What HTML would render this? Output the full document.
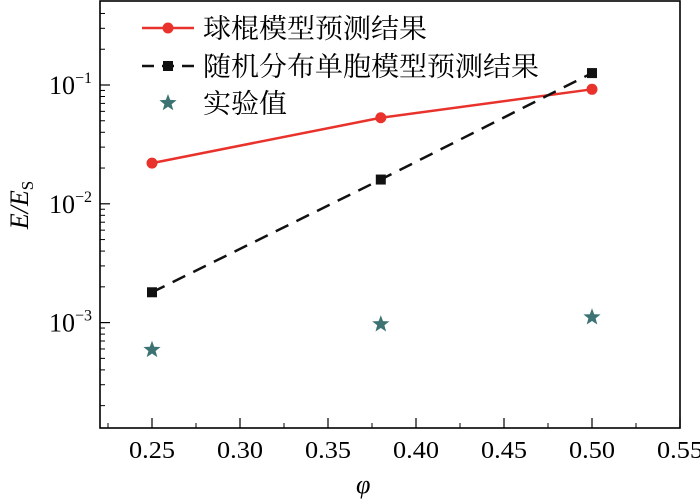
<!DOCTYPE html>
<html><head><meta charset="utf-8"><style>
html,body{margin:0;padding:0;background:#fff;}
svg{display:block;font-family:"Liberation Serif","Noto Serif CJK SC",serif;}
.cjk{font-family:"Liberation Serif","Noto Serif CJK SC",serif;}
</style></head><body>
<svg id="chart" width="700" height="499" viewBox="0 0 700 499">
</svg>
<script>
const xs=[0.25,0.38,0.5];
const ballStick=[0.022,0.053,0.092];
const randomCell=[0.0018,0.016,0.126];
const experiment=[0.00059,0.00097,0.00111];
const xTicks=[0.25,0.30,0.35,0.40,0.45,0.50,0.55];
const xTickLabels=["0.25","0.30","0.35","0.40","0.45","0.50","0.55"];
const yDecades=[-3,-2,-1];
const yTickLabels=["−3","−2","−1"];

const L=100,R=680,T=1,B=428;
const sx=v=>152+(v-0.25)/0.05*88;
const sy=v=>85-(Math.log10(v)+1)*118.8;
const NS="http://www.w3.org/2000/svg";
const svg=document.getElementById('chart');
function mk(tag,attrs,parent){const e=document.createElementNS(NS,tag);for(const k in attrs)e.setAttribute(k,attrs[k]);(parent||svg).appendChild(e);return e;}

const frame=mk('rect',{x:L,y:T,width:R-L,height:B-T,fill:'none',stroke:'#000','stroke-width':1.6});



xTicks.forEach((v,i)=>{
  const x=sx(v);
  const t=mk('line',{x1:x,x2:x,y1:B,y2:B-10,stroke:'#000','stroke-width':1.2});
  
  
  const lb=mk('text',{x:x,y:B+30,'text-anchor':'middle','font-size':24,textLength:46,lengthAdjust:'spacingAndGlyphs'});
  lb.textContent=xTickLabels[i];
  
  
  if(i<xTicks.length-1){
    const mx=sx(v+0.025);
    const m=mk('line',{x1:mx,x2:mx,y1:B,y2:B-5,stroke:'#000','stroke-width':1});
    
    
  }
});
{const mx=sx(0.225);const m=mk('line',{x1:mx,x2:mx,y1:B,y2:B-5,stroke:'#000','stroke-width':1});

}

yDecades.forEach((d,i)=>{
  const y=sy(Math.pow(10,d));
  const t=mk('line',{x1:L,x2:L+10,y1:y,y2:y,stroke:'#000','stroke-width':1.2});
  
  
  const lb=mk('text',{x:L-8,y:y+9,'text-anchor':'end','font-size':26});
  lb.innerHTML='10<tspan font-size="16" dy="-11">'+yTickLabels[i]+'</tspan>';
  
  
});
for(let d=-4;d<=0;d++){for(let k=2;k<=9;k++){
  const y=sy(k*Math.pow(10,d));
  if(y<T+1||y>B-1)continue;
  const m=mk('line',{x1:L,x2:L+5,y1:y,y2:y,stroke:'#000','stroke-width':1});
  
  
}}

const xt=mk('text',{x:sx(0.37),y:493,'text-anchor':'middle','font-size':26,'font-style':'italic'});
xt.textContent='φ';


const yt=mk('text',{transform:'translate(28,205) rotate(-90)','text-anchor':'middle','font-size':26,'font-style':'italic'});
yt.innerHTML='E/E<tspan font-size="17" font-style="normal" dy="5">S</tspan>';



function path(arr){return arr.map((v,i)=>(i?'L':'M')+sx(xs[i])+' '+sy(v)).join(' ');}
const rl=mk('path',{d:path(ballStick),fill:'none',stroke:'#e8322b','stroke-width':2.5});


ballStick.forEach((v,i)=>{const c=mk('circle',{cx:sx(xs[i]),cy:sy(v),r:5.5,fill:'#e8322b'});

});
const bl=mk('path',{d:path(randomCell),fill:'none',stroke:'#111','stroke-width':2.5,'stroke-dasharray':'14 9'});


randomCell.forEach((v,i)=>{const c=mk('rect',{x:sx(xs[i])-5,y:sy(v)-5,width:10,height:10,fill:'#111'});

});
function star(cx,cy,r){let p=[];for(let i=0;i<10;i++){const a=-Math.PI/2+i*Math.PI/5;const rr=i%2?r*0.42:r;p.push((cx+rr*Math.cos(a)).toFixed(1)+','+(cy+rr*Math.sin(a)).toFixed(1));}return p.join(' ');}
experiment.forEach((v,i)=>{const s=mk('polygon',{points:star(sx(xs[i]),sy(v),9),fill:'#3d7373'});

});

const lg=mk('g',{});


const e1=mk('line',{x1:142,x2:194,y1:28,y2:28,stroke:'#e8322b','stroke-width':2.5},lg);


const e1c=mk('circle',{cx:168,cy:28,r:5.5,fill:'#e8322b'},lg);


const e2=mk('line',{x1:142,x2:194,y1:66,y2:66,stroke:'#111','stroke-width':2.5,'stroke-dasharray':'12 8'},lg);


const e2r=mk('rect',{x:163,y:61,width:10,height:10,fill:'#111'},lg);


const e3=mk('polygon',{points:star(168,103,9),fill:'#3d7373'},lg);


[['球棍模型预测结果',28],['随机分布单胞模型预测结果',66],['实验值',103]].forEach(([t,y])=>{
  const tx=mk('text',{x:203,y:y+10,'font-size':27,'class':'cjk',textLength:t.length*28,lengthAdjust:'spacingAndGlyphs'},lg);
  tx.textContent=t;
  
  
});
</script>
</body></html>
